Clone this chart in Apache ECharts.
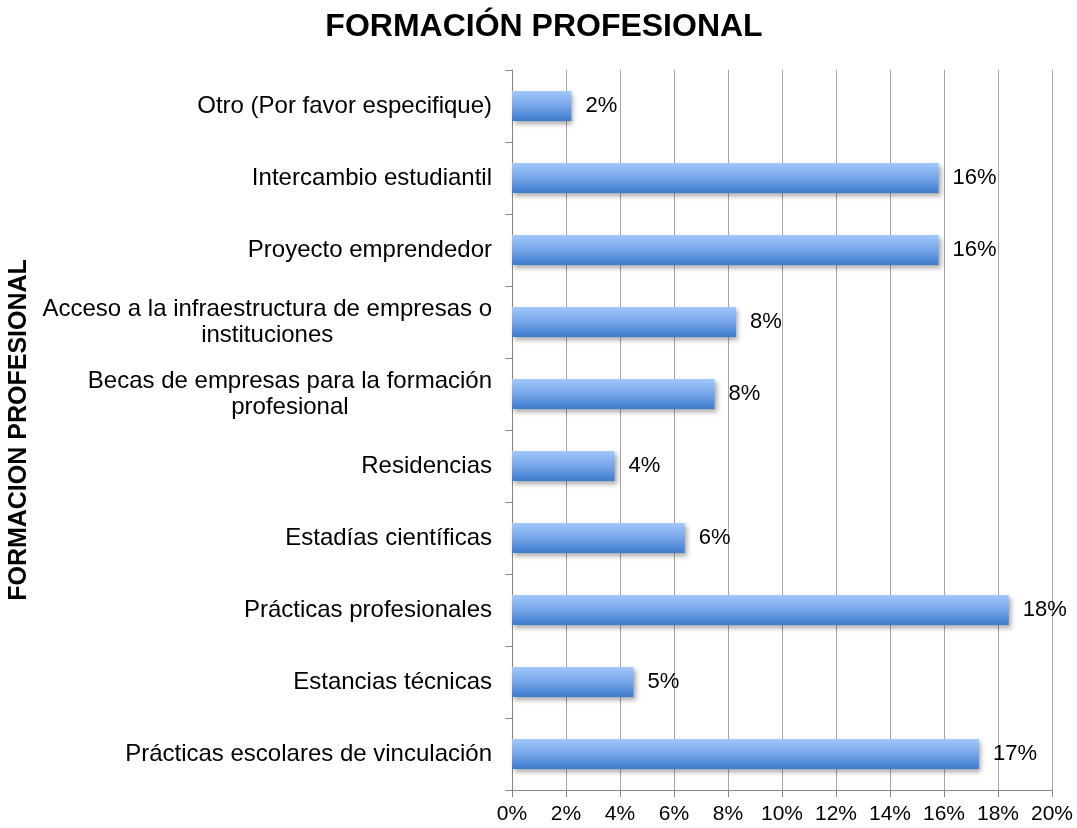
<!DOCTYPE html>
<html>
<head>
<meta charset="utf-8">
<script src="https://cdn.jsdelivr.net/npm/echarts@6/dist/echarts.min.js"></script>
<style>
  html, body { margin: 0; padding: 0; background: #fff; }
  #chart { width: 1077px; height: 828px; }
</style>
</head>
<body>
<div id="chart"></div>
<script>
// categorías, de arriba hacia abajo
const categories = [
  'Otro (Por favor especifique)',
  'Intercambio estudiantil',
  'Proyecto emprendedor',
  'Acceso a la infraestructura de empresas o\ninstituciones',
  'Becas de empresas para la formación\nprofesional',
  'Residencias',
  'Estadías científicas',
  'Prácticas profesionales',
  'Estancias técnicas',
  'Prácticas escolares de vinculación'
];

// porcentajes
const values = [2.2, 15.8, 15.8, 8.3, 7.5, 3.8, 6.4, 18.4, 4.5, 17.3];

const xTicks = [0, 2, 4, 6, 8, 10, 12, 14, 16, 18, 20];

const myChart = echarts.init(document.getElementById('chart'));

const option = {
  animation: false,
  title: {
    text: 'FORMACIÓN PROFESIONAL',
    left: 539,
    top: 6,
    textAlign: 'center',
    textStyle: {
      fontFamily: 'Liberation Sans',
      fontSize: 32,
      fontWeight: 'bold',
      color: '#000'
    }
  },
  grid: {
    left: 512,
    right: 25,
    top: 70,
    bottom: 38,
    outerBoundsMode: 'none'
  },
  xAxis: {
    type: 'value',
    min: xTicks[0],
    max: xTicks[xTicks.length - 1],
    interval: 2,
    axisLine: { show: true, lineStyle: { color: '#868686' } },
    axisTick: { show: true, length: 7, lineStyle: { color: '#868686' } },
    splitLine: { show: true, lineStyle: { color: '#a6a6a6', width: 1 } },
    axisLabel: {
      formatter: v => v + '%',
      fontFamily: 'Liberation Sans',
      fontSize: 21,
      color: '#000',
      margin: 14
    }
  },
  yAxis: {
    type: 'category',
    inverse: true,
    data: categories,
    name: 'FORMACION PROFESIONAL',
    nameLocation: 'middle',
    nameGap: 472,
    nameRotate: 90,
    nameTextStyle: {
      fontFamily: 'Liberation Sans',
      fontSize: 25,
      fontWeight: 'bold',
      color: '#000'
    },
    axisLine: { show: true, lineStyle: { color: '#868686' } },
    axisTick: { show: true, length: 7, lineStyle: { color: '#868686' } },
    axisLabel: {
      margin: 20,
      formatter: v => v.split('\n').map(s => '{c|' + s + '}').join('\n'),
      rich: {
        c: {
          align: 'center',
          fontFamily: 'Liberation Sans',
          fontSize: 24,
          lineHeight: 26,
          color: '#000'
        }
      }
    }
  },
  series: [
    {
      type: 'bar',
      data: values,
      barWidth: 30,
      itemStyle: {
        color: new echarts.graphic.LinearGradient(0, 0, 0, 1, [
          { offset: 0, color: '#a3c8fa' },
          { offset: 0.5, color: '#76a5ea' },
          { offset: 1, color: '#3e7ccc' }
        ]),
        shadowColor: 'rgba(0,0,0,0.35)',
        shadowBlur: 5,
        shadowOffsetX: 2,
        shadowOffsetY: 3
      },
      label: {
        show: true,
        position: 'right',
        distance: 14,
        formatter: p => Math.round(p.value) + '%',
        fontFamily: 'Liberation Sans',
        fontSize: 22,
        color: '#000'
      }
    }
  ]
};

option && myChart.setOption(option);
</script>
</body>
</html>
